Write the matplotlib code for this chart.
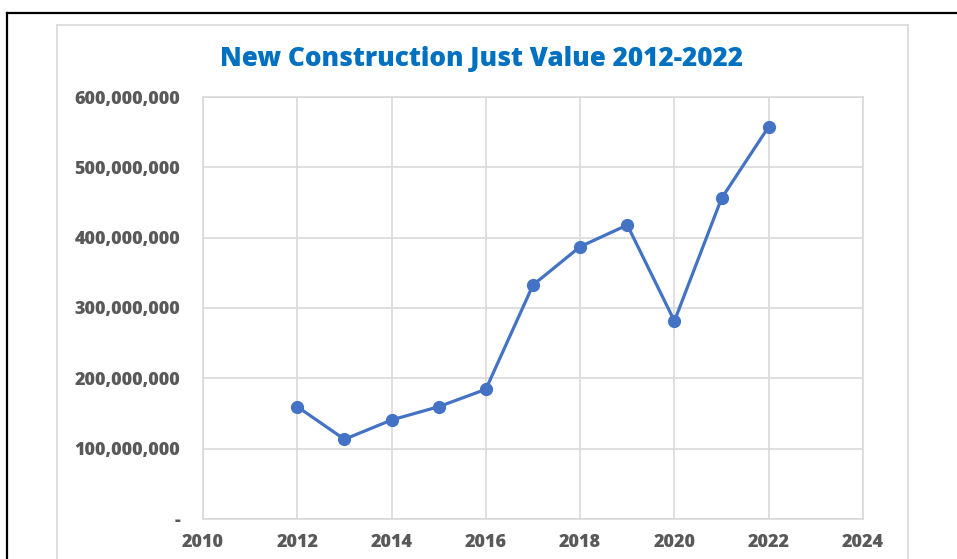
import matplotlib
matplotlib.use("Agg")
import matplotlib.pyplot as plt
from matplotlib.lines import Line2D
from matplotlib.ticker import FuncFormatter

years = [2012, 2013, 2014, 2015, 2016, 2017, 2018, 2019, 2020, 2021, 2022]
values = [159.7e6, 113.3e6, 140.8e6, 159.7e6, 184.4e6, 332.7e6, 387.2e6, 418.0e6, 281.5e6, 456.0e6, 557.8e6]
title = "New Construction Just Value 2012-2022"
x_ticks = [2010, 2012, 2014, 2016, 2018, 2020, 2022, 2024]
y_ticks = [0, 100e6, 200e6, 300e6, 400e6, 500e6, 600e6]

W, H = 957, 559
fig = plt.figure(figsize=(W / 100, H / 100), dpi=100)
fig.patch.set_facecolor("white")

# outer black frame (top and left)
fig.add_artist(Line2D([7 / W, 7 / W], [0, 1 - 13 / H], color="black", lw=1.6, transform=fig.transFigure))
fig.add_artist(Line2D([7 / W, 1], [1 - 13 / H, 1 - 13 / H], color="black", lw=1.6, transform=fig.transFigure))
# light gray chart-area box
gc = "#D9D9D9"
fig.add_artist(Line2D([57 / W, 57 / W], [0, 1 - 25 / H], color=gc, lw=1.2, transform=fig.transFigure))
fig.add_artist(Line2D([57 / W, 908 / W], [1 - 25 / H, 1 - 25 / H], color=gc, lw=1.2, transform=fig.transFigure))
fig.add_artist(Line2D([908 / W, 908 / W], [0, 1 - 25 / H], color=gc, lw=1.2, transform=fig.transFigure))

left, right, top, bottom = 203, 863, 97, 519
ax = fig.add_axes([left / W, 1 - bottom / H, (right - left) / W, (bottom - top) / H])
ax.plot(years, values, color="#4472C4", lw=2.3, marker="o", markersize=8.5, zorder=3)
ax.set_xlim(2010, 2024)
ax.set_ylim(0, 600e6)
ax.set_xticks(x_ticks)
ax.set_yticks(y_ticks)
ax.yaxis.set_major_formatter(FuncFormatter(lambda v, p: "-" if v == 0 else f"{int(v):,}"))
ax.grid(True, color=gc, lw=1.2)
ax.set_axisbelow(True)
for s in ax.spines.values():
    s.set_color(gc)
    s.set_linewidth(1.2)
ax.tick_params(length=0, labelcolor="#595959")
ax.tick_params(axis="y", pad=16.5)
ax.tick_params(axis="x", pad=11)
for lab in ax.get_xticklabels() + ax.get_yticklabels():
    lab.set_fontfamily("Open Sans")
    lab.set_fontweight("heavy")
    lab.set_fontsize(13)

fig.text(482 / W, 1 - 59 / H, title, ha="center", va="center", fontfamily="Open Sans",
         fontweight="heavy", fontsize=18.8, color="#0070C0")

fig.savefig("out.png", dpi=100, facecolor="white")
